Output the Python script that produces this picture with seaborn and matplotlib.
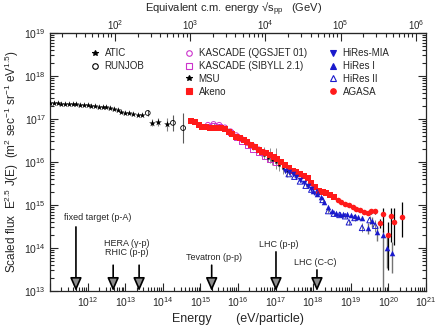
import numpy as np
import pandas as pd
import matplotlib
matplotlib.use('Agg')
import matplotlib.pyplot as plt
import seaborn as sns
from matplotlib.lines import Line2D
from matplotlib.ticker import LogLocator, NullFormatter

# ---- data (log10 of energy in eV, log10 of scaled flux) ----
atic_logE = [11.0, 11.1, 11.2, 11.3, 11.4, 11.5, 11.6, 11.7, 11.8, 11.9, 12.0, 12.1, 12.2,
             12.3, 12.4, 12.5, 12.6, 12.7, 12.8, 12.9, 13.0, 13.1, 13.2, 13.35, 13.45]
atic_logF = [17.38, 17.37, 17.37, 17.36, 17.36, 17.35, 17.35, 17.34, 17.33, 17.33, 17.32, 17.31, 17.30,
             17.29, 17.28, 17.27, 17.25, 17.23, 17.20, 17.17, 17.14, 17.13, 17.12, 17.09, 17.10]
atic_hi_logE = [13.71, 13.87, 14.11]
atic_hi_logF = [16.91, 16.93, 16.88]
atic_hi_err = [0.08, 0.10, 0.15]

runjob_logE = [13.6, 14.27, 14.54]
runjob_logF = [17.14, 16.91, 16.79]
runjob_err = [0.06, 0.18, 0.35]

kascade_q_logE = [15.2, 15.35, 15.5, 15.65, 15.8, 15.95, 16.1, 16.25, 16.4, 16.55, 16.7, 16.85, 17.0]
kascade_q_logF = [16.86, 16.88, 16.86, 16.80, 16.71, 16.62, 16.53, 16.45, 16.37, 16.29, 16.22, 16.15, 16.08]
kascade_s_logE = [15.2, 15.35, 15.5, 15.65, 15.8, 15.95, 16.1, 16.25, 16.4, 16.55, 16.7, 16.85, 17.0]
kascade_s_logF = [16.83, 16.85, 16.83, 16.77, 16.68, 16.58, 16.48, 16.39, 16.30, 16.22, 16.14, 16.05, 15.98]
kascade_err = [0.02, 0.02, 0.02, 0.02, 0.02, 0.03, 0.03, 0.04, 0.05, 0.07, 0.12, 0.18, 0.25]

msu_logE = [15.3, 15.4, 15.5, 15.6, 15.7, 15.8, 15.9, 16.0, 16.1, 16.2, 16.3, 16.4, 16.5,
            16.6, 16.7, 16.8, 16.9, 17.0, 17.1, 17.2, 17.3]
msu_logF = [16.83, 16.84, 16.84, 16.82, 16.76, 16.68, 16.62, 16.56, 16.51, 16.45, 16.38, 16.33, 16.27,
            16.22, 16.16, 16.10, 16.04, 15.99, 15.93, 15.86, 15.80]
msu_err = [0.02, 0.02, 0.02, 0.02, 0.03, 0.03, 0.03, 0.04, 0.04, 0.05, 0.05, 0.06, 0.07,
           0.08, 0.09, 0.10, 0.11, 0.12, 0.13, 0.14, 0.15]

akeno_logE = [14.75, 14.85, 14.95, 15.05, 15.15, 15.25, 15.35, 15.45, 15.55, 15.65, 15.75, 15.85, 15.95,
              16.05, 16.15, 16.25, 16.35, 16.45, 16.55, 16.65, 16.75, 16.85, 16.95, 17.05, 17.15, 17.25,
              17.35, 17.45, 17.55, 17.65, 17.75, 17.85, 17.95, 18.05, 18.15, 18.25, 18.35, 18.45, 18.55]
akeno_logF = [16.96, 16.94, 16.86, 16.82, 16.81, 16.80, 16.79, 16.79, 16.79, 16.76, 16.70, 16.64, 16.59,
              16.55, 16.51, 16.46, 16.40, 16.35, 16.29, 16.24, 16.20, 16.16, 16.12, 16.06, 16.01, 15.94,
              15.86, 15.80, 15.76, 15.72, 15.67, 15.62, 15.52, 15.42, 15.33, 15.30, 15.28, 15.24, 15.18]

hires_mia_logE = [17.25, 17.35, 17.45, 17.55, 17.65, 17.75, 17.85, 17.95]
hires_mia_logF = [15.80, 15.76, 15.72, 15.66, 15.58, 15.52, 15.45, 15.38]

hires1_logE = [18.0, 18.1, 18.2, 18.3, 18.4, 18.5, 18.6, 18.7, 18.8, 18.9, 19.0, 19.1, 19.2, 19.3,
               19.46, 19.56, 19.7, 19.86, 19.96, 20.1]
hires1_logF = [15.32, 15.25, 15.18, 15.08, 14.95, 14.86, 14.82, 14.80, 14.80, 14.78, 14.76, 14.74, 14.73, 14.70,
               14.47, 14.62, 14.37, 14.30, 14.00, 13.88]
hires1_err_up = [0, 0, 0, 0, 0, 0, 0, 0, 0, 0, 0, 0, 0, 0.05, 0.12, 0.10, 0.15, 0.10, 0.30, 0.26]
hires1_err_dn = [0, 0, 0, 0, 0, 0, 0, 0, 0, 0, 0, 0, 0, 0.05, 0.15, 0.12, 0.20, 1.30, 0.47, 0.46]

hires2_logE = [17.35, 17.5, 17.65, 17.8, 17.95, 18.1, 18.25, 18.4, 18.55, 18.7, 18.85, 18.95,
               19.1, 19.3, 19.5, 19.65]
hires2_logF = [15.72, 15.66, 15.55, 15.45, 15.36, 15.30, 15.12, 14.86, 14.80, 14.77, 14.74, 14.60,
               14.70, 14.47, 14.65, 14.52]
hires2_err = [0.02, 0.02, 0.02, 0.03, 0.03, 0.03, 0.04, 0.04, 0.04, 0.05, 0.05, 0.06,
              0.07, 0.10, 0.10, 0.14]

agasa_logE = [18.65, 18.75, 18.85, 18.95, 19.05, 19.15, 19.25, 19.35, 19.45, 19.55, 19.65, 19.78,
              19.86, 19.99, 20.07, 20.15, 20.36]
agasa_logF = [15.11, 15.06, 15.03, 14.99, 14.95, 14.91, 14.88, 14.84, 14.81, 14.85, 14.86, 14.58,
              14.79, 14.30, 14.74, 14.60, 14.72]
agasa_err_up = [0, 0, 0, 0, 0, 0, 0, 0, 0.03, 0.04, 0.05, 0.10, 0.14, 0.30, 0.19, 0.33, 0.35]
agasa_err_dn = [0, 0, 0, 0, 0, 0, 0, 0, 0.03, 0.05, 0.06, 0.12, 0.42, 0.80, 0.60, 0.53, 0.46]

# accelerator energies (log10 eV), arrow start height (log10 flux), label
acc_names = ['fixed target (p-A)', 'HERA (\u03b3-p)\nRHIC (p-p)', '', 'Tevatron (p-p)', 'LHC (p-p)', 'LHC (C-C)']
acc_logE = [11.69, 12.68, 13.37, 15.30, 17.01, 18.10]
acc_top = [14.49, 13.60, 13.60, 13.60, 13.91, 13.49]
acc_text_logE = [12.28, 13.05, 13.05, 15.36, 17.09, 18.05]
acc_text_logF = [14.72, 14.00, 14.00, 13.79, 14.07, 13.67]

magenta = '#cc33cc'
blue = '#1a1acc'
red = '#ff1a1a'

sns.set_style('ticks')
plt.rcParams['font.family'] = ['Liberation Sans', 'DejaVu Sans']
plt.rcParams['mathtext.default'] = 'regular'

fig = plt.figure(figsize=(4.36, 3.25), dpi=100)
ax = fig.add_axes([50/436, 34/325, 376/436, 258/325])
ax.set_xscale('log')
ax.set_yscale('log')


def p(v):
    return 10.0 ** np.array(v)


def errs(logF, up, dn):
    f = p(logF)
    return [f - p(np.array(logF) - np.array(dn)), p(np.array(logF) + np.array(up)) - f]


# error bars first (grey)
ax.errorbar(p(atic_hi_logE), p(atic_hi_logF), yerr=errs(atic_hi_logF, atic_hi_err, atic_hi_err),
            fmt='none', ecolor='0.5', lw=0.8)
ax.errorbar(p(runjob_logE), p(runjob_logF), yerr=errs(runjob_logF, runjob_err, runjob_err),
            fmt='none', ecolor='0.35', lw=0.8)
ax.errorbar(p(kascade_q_logE), p(kascade_q_logF), yerr=errs(kascade_q_logF, kascade_err, kascade_err),
            fmt='none', ecolor='0.55', lw=0.7)
ax.errorbar(p(msu_logE), p(msu_logF), yerr=errs(msu_logF, msu_err, msu_err),
            fmt='none', ecolor='0.55', lw=0.7)
ax.errorbar(p(hires2_logE), p(hires2_logF), yerr=errs(hires2_logF, hires2_err, hires2_err),
            fmt='none', ecolor='0.5', lw=0.7)
ax.errorbar(p(hires1_logE), p(hires1_logF), yerr=errs(hires1_logF, hires1_err_up, hires1_err_dn),
            fmt='none', ecolor='0.45', lw=1.0)
ax.errorbar(p(agasa_logE), p(agasa_logF), yerr=errs(agasa_logF, agasa_err_up, agasa_err_dn),
            fmt='none', ecolor='k', lw=0.9)

# markers
sns.scatterplot(x=p(atic_logE), y=p(atic_logF), marker='*', color='k', s=22, linewidth=0, ax=ax, zorder=3)
sns.scatterplot(x=p(atic_hi_logE), y=p(atic_hi_logF), marker='*', color='k', s=26, linewidth=0, ax=ax, zorder=3)
sns.scatterplot(x=p(runjob_logE), y=p(runjob_logF), marker='o', facecolor='none', edgecolor='k',
                s=12, linewidth=0.6, ax=ax, zorder=3)
sns.scatterplot(x=p(kascade_q_logE), y=p(kascade_q_logF), marker='o', facecolor='none', edgecolor=magenta,
                s=14, linewidth=0.7, ax=ax, zorder=3)
sns.scatterplot(x=p(kascade_s_logE), y=p(kascade_s_logF), marker='s', facecolor='none', edgecolor=magenta,
                s=14, linewidth=0.7, ax=ax, zorder=3)
sns.scatterplot(x=p(msu_logE), y=p(msu_logF), marker='*', color='k', s=10, linewidth=0, ax=ax, zorder=3)
sns.scatterplot(x=p(akeno_logE), y=p(akeno_logF), marker='s', color=red, s=16, linewidth=0, ax=ax, zorder=4)
sns.scatterplot(x=p(hires_mia_logE), y=p(hires_mia_logF), marker='v', color=blue, s=16, linewidth=0, ax=ax, zorder=4)
sns.scatterplot(x=p(hires1_logE), y=p(hires1_logF), marker='^', color=blue, s=16, linewidth=0, ax=ax, zorder=4)
sns.scatterplot(x=p(hires2_logE), y=p(hires2_logF), marker='^', facecolor='none', edgecolor=blue,
                s=16, linewidth=0.7, ax=ax, zorder=4)
sns.scatterplot(x=p(agasa_logE), y=p(agasa_logF), marker='o', color=red, s=16, linewidth=0, ax=ax, zorder=5)

# accelerator arrows
for name, e, top, te, tf in zip(acc_names, acc_logE, acc_top, acc_text_logE, acc_text_logF):
    ax.annotate('', xy=(10**e, 1e13), xytext=(10**e, 10**top),
                arrowprops=dict(arrowstyle='-|>,head_length=0.8,head_width=0.35', fc='0.55', ec='k', lw=1.2,
                                shrinkA=0, shrinkB=0))
    if name:
        ax.text(10**te, 10**tf, name, ha='center', va='center', fontsize=6.5, linespacing=1.1)

ax.set_xlim(1e11, 1e21)
ax.set_ylim(1e13, 1e19)
ax.set_xticks([10.0**k for k in range(11, 22)])
ax.set_xticklabels([''] + ['$10^{%d}$' % k for k in range(12, 22)])
ax.set_yticks([10.0**k for k in range(13, 20)])
ax.set_yticklabels(['$10^{%d}$' % k for k in range(13, 20)])
ax.xaxis.set_minor_locator(LogLocator(base=10, subs=np.arange(2, 10), numticks=30))
ax.yaxis.set_minor_locator(LogLocator(base=10, subs=np.arange(2, 10), numticks=30))
ax.xaxis.set_minor_formatter(NullFormatter())
ax.yaxis.set_minor_formatter(NullFormatter())
ax.tick_params(which='both', direction='in', right=True, labelsize=7.5, width=0.8, pad=3)
ax.tick_params(which='major', length=6)
ax.tick_params(which='minor', length=3)
for sp in ax.spines.values():
    sp.set_linewidth(0.9)

# top axis: equivalent c.m. energy
def to_sqrts(E):
    return np.sqrt(2 * 0.938 * np.clip(E, 1e-30, None) / 1e9)


def from_sqrts(s):
    return np.asarray(s) ** 2 * 1e9 / (2 * 0.938)


secax = ax.secondary_xaxis('top', functions=(to_sqrts, from_sqrts))
secax.set_xticks([1e2, 1e3, 1e4, 1e5, 1e6])
secax.set_xticklabels(['$10^{%d}$' % k for k in range(2, 7)])
secax.xaxis.set_minor_locator(LogLocator(base=10, subs=np.arange(2, 10), numticks=30))
secax.xaxis.set_minor_formatter(NullFormatter())
secax.tick_params(which='both', direction='in', labelsize=7, width=0.8, pad=1)
secax.tick_params(which='major', length=6)
secax.tick_params(which='minor', length=3)
fig.text(234/436, 1 - 0.5/325, 'Equivalent c.m. energy \u221as$_{pp}$   (GeV)', fontsize=8,
         ha='center', va='top')

ax.set_xlabel('Energy       (eV/particle)', fontsize=9, labelpad=3)
ax.set_ylabel(r'Scaled flux  E$^{2.5}$ J(E)  (m$^{2}$ sec$^{-1}$ sr$^{-1}$ eV$^{1.5}$)', fontsize=8.5, labelpad=2)

# legend in three columns
def h(marker, fc, ec):
    return Line2D([], [], marker=marker, linestyle='none', markerfacecolor=fc, markeredgecolor=ec,
                  markersize=4, markeredgewidth=0.8)


leg_kw = dict(frameon=False, fontsize=7, handlelength=1.0, handletextpad=0.5, labelspacing=0.3,
              borderpad=0, borderaxespad=0, loc='upper left', bbox_transform=fig.transFigure)
l1 = ax.legend([h('*', 'k', 'k'), h('o', 'none', 'k')], ['ATIC', 'RUNJOB'],
               bbox_to_anchor=(90/436, 1 - 48/325), **leg_kw)
ax.add_artist(l1)
l2 = ax.legend([h('o', 'none', magenta), h('s', 'none', magenta), h('*', 'k', 'k'), h('s', red, red)],
               ['KASCADE (QGSJET 01)', 'KASCADE (SIBYLL 2.1)', 'MSU', 'Akeno'],
               bbox_to_anchor=(184/436, 1 - 48/325), **leg_kw)
ax.add_artist(l2)
ax.legend([h('v', blue, blue), h('^', blue, blue), h('^', 'none', blue), h('o', red, red)],
          ['HiRes-MIA', 'HiRes I', 'HiRes II', 'AGASA'],
          bbox_to_anchor=(328/436, 1 - 48/325), **leg_kw)

fig.savefig('out.png', dpi=100)
